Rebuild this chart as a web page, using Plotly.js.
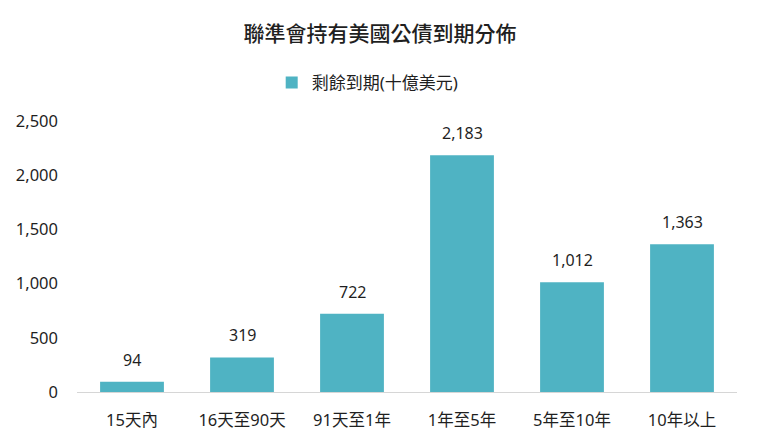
<!DOCTYPE html>
<html>
<head>
<meta charset="utf-8">
<script src="https://cdn.plot.ly/plotly-3.0.1.min.js"></script>
<style>
  body { margin: 0; background: #fff; }
  #chart { width: 760px; height: 445px; }
</style>
</head>
<body>
<div id="chart"></div>
<script>
const categories = ["15天內", "16天至90天", "91天至1年", "1年至5年", "5年至10年", "10年以上"];
const maturity = [94, 319, 722, 2183, 1012, 1363];
const seriesName = "剩餘到期(十億美元)";
const yTicks = [0, 500, 1000, 1500, 2000, 2500];

// Latin digits from Noto Sans, CJK glyphs fall back to Noto Sans CJK TC
const font = "Noto Sans, Noto Sans CJK TC, sans-serif";
const fmt = v => v.toLocaleString("en-US");

var data = [{
  type: "bar",
  x: categories,
  y: maturity,
  name: seriesName,
  marker: { color: "#4fb3c3" },
  hoverinfo: "none",
}];

// value labels above bars
let annotations = categories.map((c, i) => ({
  x: c, y: maturity[i],
  xref: "x", yref: "y",
  text: fmt(maturity[i]),
  showarrow: false,
  yanchor: "bottom",
  yshift: 9,
  font: { size: 16, color: "#1f1f1f" },
}));

var layout = {
  width: 760,
  height: 445,
  margin: { l: 77, r: 23, t: 121, b: 53 },
  paper_bgcolor: "#fff",
  plot_bgcolor: "#fff",
  font: { family: font, size: 16, color: "#1f1f1f" },
  title: {
    text: "聯準會持有美國公債到期分佈",
    font: { size: 21, color: "#1f1f1f", weight: 500 },
    x: 0.5, xanchor: "center",
    y: 0.925, yanchor: "middle",
  },
  showlegend: true,
  legend: {
    orientation: "h",
    x: 0.295, xanchor: "left",
    y: 1.14, yanchor: "middle",
    font: { size: 17 },
  },
  bargap: 0.42,
  annotations,
  xaxis: {
    showline: true,
    linecolor: "#d6d6d6",
    linewidth: 1,
    ticks: "",
    ticklabelstandoff: 13,
    tickfont: { size: 16.5 },
  },
  yaxis: {
    range: [0, 2500],
    tickvals: yTicks,
    ticktext: yTicks.map(fmt),
    showgrid: false,
    zeroline: false,
    ticks: "",
    ticklabelstandoff: 18,
    tickfont: { size: 16.5 },
  },
};

Plotly.newPlot("chart", data, layout, { displayModeBar: false });
</script>
</body>
</html>
